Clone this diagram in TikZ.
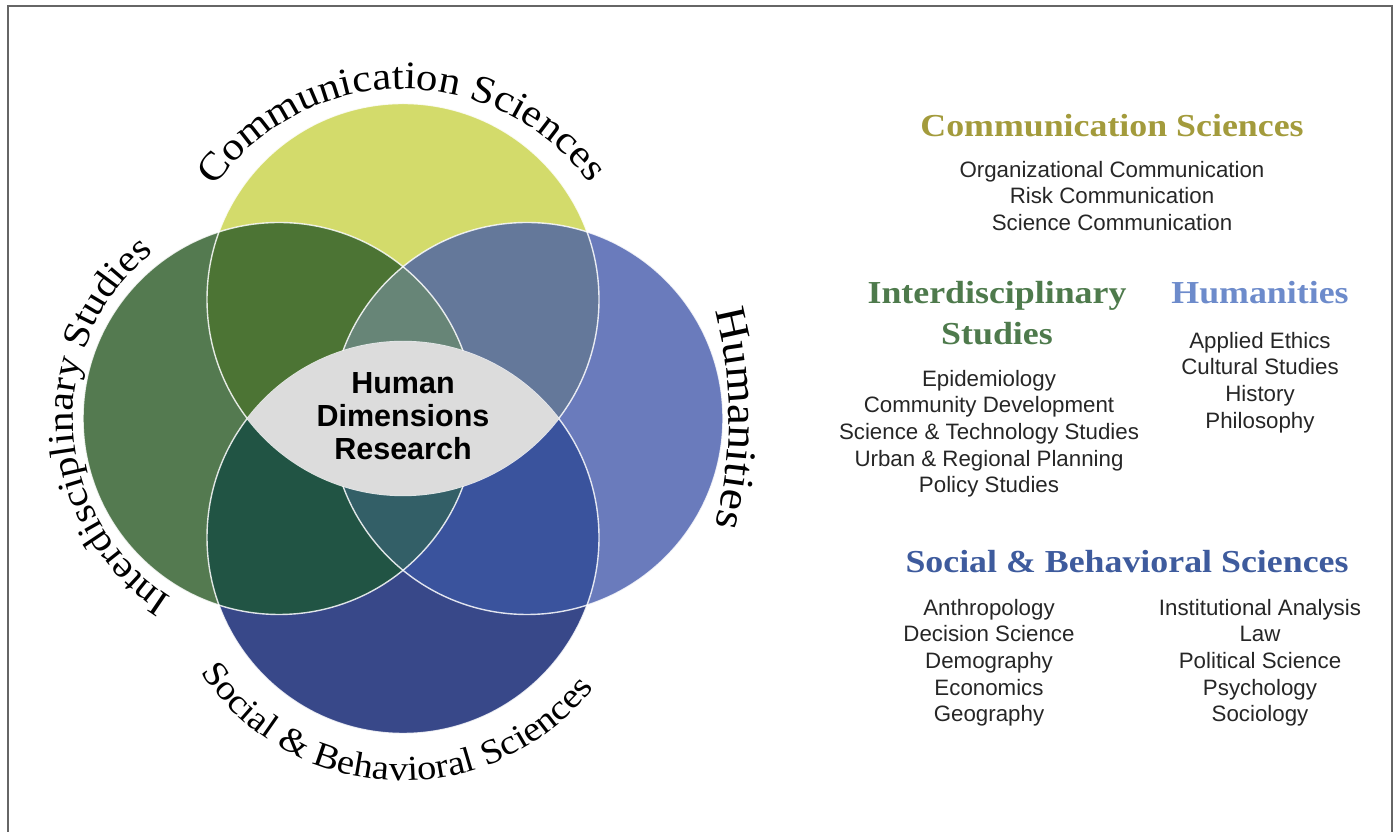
\documentclass[tikz,border=0pt]{standalone}
\usepackage{tikz}
\usetikzlibrary{decorations.text}
\usepackage{xcolor}
\usepackage{fontspec}
\setmainfont{Liberation Serif}
\setsansfont{Liberation Sans}
\newfontfamily\arcfont[FakeStretch=1.1]{Liberation Serif}
\newfontfamily\headfont[FakeStretch=1.12]{Liberation Serif}

\definecolor{commyellow}{HTML}{D3DB6B}
\definecolor{intergreen}{HTML}{547A50}
\definecolor{humblue}{HTML}{6A7BBC}
\definecolor{socialblue}{HTML}{384889}
\definecolor{commxinter}{HTML}{4C7434}
\definecolor{commxhum}{HTML}{64789A}
\definecolor{commxboth}{HTML}{678577}
\definecolor{socialxinter}{HTML}{215444}
\definecolor{socialxhum}{HTML}{3A539D}
\definecolor{socialxboth}{HTML}{335F67}
\definecolor{hdrgray}{HTML}{DCDCDC}
\definecolor{commtitle}{HTML}{A39B3C}
\definecolor{intertitle}{HTML}{4E7A4C}
\definecolor{humtitle}{HTML}{6D8BCB}
\definecolor{socialtitle}{HTML}{3E5B9D}
\definecolor{framegray}{HTML}{666666}

\newcommand\topfont{\arcfont\fontsize{39}{41}\selectfont}
\newcommand\leftfont{\arcfont\fontsize{37.5}{40}\selectfont}
\newcommand\rightfont{\arcfont\fontsize{43}{45}\selectfont}
\newcommand\bottomfont{\arcfont\fontsize{35}{37}\selectfont}

\begin{document}
\begin{tikzpicture}[x=1pt,y=1pt,
	ring/.style={draw=white,draw opacity=.85,line width=1.4},
	heading/.style={font=\headfont\bfseries\fontsize{32}{41}\selectfont,inner sep=0pt},
	listing/.style={font=\sffamily\fontsize{22.3}{26.7}\selectfont,text=black!85,align=center,inner sep=0pt,anchor=north},
	arclabel/.style={decorate,decoration={text along path,text align=center,text={#1}}}]

\useasboundingbox (0,0) rectangle (1394,832);
\draw[framegray,line width=2] (7.5,0) -- (7.5,826.3) -- (1391.7,826.3) -- (1391.7,0);

\coordinate (comm) at (403,532.5);
\coordinate (inter) at (279,413.5);
\coordinate (hum) at (527,413.5);
\coordinate (social) at (403,294.5);
\def\rad{196}

% the four fields
\fill[commyellow] (comm) circle (\rad);
\fill[intergreen] (inter) circle (\rad);
\fill[humblue] (hum) circle (\rad);
\fill[socialblue] (social) circle (\rad);
\begin{scope}
	\clip (comm) circle (\rad);
	\fill[commxinter] (inter) circle (\rad);
	\fill[commxhum] (hum) circle (\rad);
	\clip (inter) circle (\rad);
	\fill[commxboth] (hum) circle (\rad);
\end{scope}
\begin{scope}
	\clip (social) circle (\rad);
	\fill[socialxinter] (inter) circle (\rad);
	\fill[socialxhum] (hum) circle (\rad);
	\clip (inter) circle (\rad);
	\fill[socialxboth] (hum) circle (\rad);
\end{scope}
\foreach \c in {comm,inter,hum,social}
	\draw[ring] (\c) circle (\rad);
\begin{scope}
	\clip (comm) circle (\rad);
	\fill[hdrgray] (social) circle (\rad);
\end{scope}
\node[font=\sffamily\bfseries\fontsize{30.5}{33}\selectfont,align=center,inner sep=0pt] (hdr) at (403,415.4) {Human\\Dimensions\\Research};

% names round the circles
\path[arclabel={|\topfont|Communication Sciences},shift={(403,512)}] (160:231) arc[start angle=160,end angle=21,radius=231];
\path[arclabel={|\leftfont|Interdisciplinary Studies},shift={(285,413.5)}] (250:212) arc[start angle=250,end angle=116,radius=212];
\path[arclabel={|\rightfont|Humanities},shift={(300,413.5)}] (30:429) arc[start angle=30,end angle=-30,radius=429];
\path[arclabel={|\bottomfont|Social {\&} Behavioral Sciences},shift={(403,294.5)}] (200:243) arc[start angle=200,end angle=335.4,radius=243];

% legend
\node[heading,commtitle,anchor=base] (commhead) at (1112,695) {Communication Sciences};
\node[listing] (commlist) at (1112,673.7) {\strut Organizational Communication\\Risk Communication\\Science Communication};

\node[heading,intertitle,align=center,anchor=north] (interhead) at (997,557.7) {\strut Interdisciplinary\\Studies};
\node[listing] (interlist) at (989,464.7) {\strut Epidemiology\\Community Development\\Science \& Technology Studies\\Urban \& Regional Planning\\Policy Studies};

\node[heading,humtitle,anchor=base] (humhead) at (1260,528) {Humanities};
\node[listing] (humlist) at (1260,502.7) {\strut Applied Ethics\\Cultural Studies\\History\\Philosophy};

\node[heading,socialtitle,anchor=base] (socialhead) at (1127,259) {Social \& Behavioral Sciences};
\node[listing] (sociallist) at (989,235.7) {\strut Anthropology\\Decision Science\\Demography\\Economics\\Geography};
\node[listing] (sociallist2) at (1260,235.7) {\strut Institutional Analysis\\Law\\Political Science\\Psychology\\Sociology};

\end{tikzpicture}
\end{document}
